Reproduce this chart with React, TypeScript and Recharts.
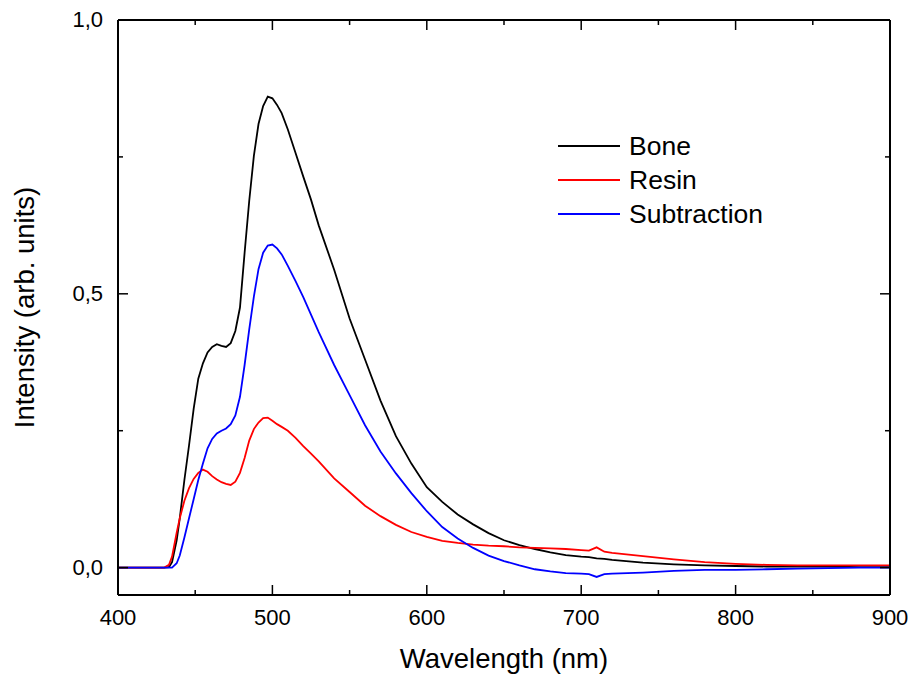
import { LineChart, Line, XAxis, YAxis, Legend } from "recharts";

const wavelengths = [
  400, 410, 420, 430, 433, 435, 438, 440, 443, 446, 449, 452, 455, 458, 461, 464,
  467, 470, 473, 476, 479, 482, 485, 488, 491, 494, 497, 500, 503, 506, 510, 515,
  520, 525, 530, 540, 550, 560, 570, 580, 590, 600, 610, 620, 630, 640, 650, 660,
  670, 680, 690, 700, 705, 710, 715, 720, 740, 760, 780, 800, 820, 840, 860, 880, 900,
];

const bone = [
  0, 0, 0, 0, 0.001, 0.01, 0.05, 0.09, 0.16, 0.223, 0.29, 0.345, 0.373, 0.393, 0.403, 0.408,
  0.405, 0.403, 0.41, 0.432, 0.475, 0.575, 0.67, 0.752, 0.81, 0.843, 0.86, 0.857, 0.845, 0.83, 0.8, 0.757,
  0.714, 0.672, 0.625, 0.544, 0.455, 0.38, 0.305, 0.24, 0.19, 0.147, 0.12, 0.097, 0.079, 0.063, 0.05, 0.041,
  0.034, 0.028, 0.023, 0.02, 0.019, 0.017, 0.016, 0.014, 0.009, 0.006, 0.004, 0.003, 0.002, 0.002, 0.002, 0.001, 0.001,
];

const resin = [
  0, 0, 0, 0, 0.005, 0.02, 0.064, 0.09, 0.122, 0.145, 0.162, 0.173, 0.179, 0.175, 0.167, 0.161,
  0.156, 0.153, 0.151, 0.157, 0.173, 0.2, 0.232, 0.253, 0.265, 0.273, 0.274, 0.268, 0.262, 0.257, 0.25, 0.237,
  0.222, 0.208, 0.194, 0.163, 0.138, 0.113, 0.094, 0.078, 0.065, 0.056, 0.049, 0.045, 0.042, 0.04, 0.039, 0.037,
  0.036, 0.035, 0.034, 0.032, 0.031, 0.037, 0.029, 0.027, 0.021, 0.015, 0.01, 0.007, 0.005, 0.004, 0.004, 0.004, 0.004,
];

const subtraction = [
  0, 0, 0, 0, 0, 0, 0.008, 0.022, 0.055, 0.09, 0.125, 0.16, 0.19, 0.218, 0.235, 0.245,
  0.25, 0.254, 0.262, 0.278, 0.312, 0.37, 0.435, 0.495, 0.545, 0.575, 0.588, 0.59, 0.583, 0.572, 0.551, 0.523,
  0.494, 0.462, 0.43, 0.37, 0.315, 0.26, 0.212, 0.172, 0.136, 0.103, 0.074, 0.053, 0.036, 0.022, 0.012, 0.004,
  -0.003, -0.007, -0.01, -0.011, -0.012, -0.017, -0.012, -0.011, -0.009, -0.006, -0.004, -0.004, -0.003, -0.002, -0.001, 0, 0,
];

const xTicks = [400, 450, 500, 550, 600, 650, 700, 750, 800, 850, 900];
const yTicks = [0, 0.25, 0.5, 0.75, 1.0];

const series = [
  { key: "bone", name: "Bone", color: "#000000" },
  { key: "resin", name: "Resin", color: "#ff0000" },
  { key: "subtraction", name: "Subtraction", color: "#0000ff" },
];

const data = wavelengths.map((w, i) => ({
  w,
  bone: bone[i],
  resin: resin[i],
  subtraction: subtraction[i],
}));

const FONT = "'Liberation Sans', Arial, sans-serif";

const isMajorX = (v: number) => v % 100 === 0;
const isMajorY = (v: number) => Math.abs((v * 2) % 1) < 1e-9;

const BottomTick = (props: any) => {
  const { x, y, payload } = props;
  const major = isMajorX(payload.value);
  return (
    <g>
      <line x1={x} y1={y} x2={x} y2={y - (major ? 10 : 5)} stroke="#000" strokeWidth={1.5} />
      {major && (
        <text x={x} y={y + 30} textAnchor="middle" fontSize={22} fontFamily={FONT} fill="#000">
          {payload.value}
        </text>
      )}
    </g>
  );
};

const TopTick = (props: any) => {
  const { x, y, payload } = props;
  const major = isMajorX(payload.value);
  return <line x1={x} y1={y} x2={x} y2={y + (major ? 10 : 5)} stroke="#000" strokeWidth={1.5} />;
};

const LeftTick = (props: any) => {
  const { x, y, payload } = props;
  const major = isMajorY(payload.value);
  return (
    <g>
      <line x1={x} y1={y} x2={x + (major ? 10 : 5)} y2={y} stroke="#000" strokeWidth={1.5} />
      {major && (
        <text x={x - 15} y={y + 7} textAnchor="end" fontSize={22} fontFamily={FONT} fill="#000">
          {payload.value.toFixed(1).replace(".", ",")}
        </text>
      )}
    </g>
  );
};

const RightTick = (props: any) => {
  const { x, y, payload } = props;
  const major = isMajorY(payload.value);
  return <line x1={x} y1={y} x2={x - (major ? 10 : 5)} y2={y} stroke="#000" strokeWidth={1.5} />;
};

const LegendBox = (props: any) => {
  const items = props.payload ?? [];
  return (
    <div>
      {items.map((item: any) => (
        <div key={item.value} style={{ display: "flex", alignItems: "center", height: 34 }}>
          <svg width={62} height={4}>
            <line x1={0} y1={2} x2={62} y2={2} stroke={item.color} strokeWidth={2} />
          </svg>
          <span style={{ marginLeft: 9, fontSize: 26.5, fontFamily: FONT, color: "#000" }}>{item.value}</span>
        </div>
      ))}
    </div>
  );
};

export default function App() {
  return (
    <div style={{ position: "absolute", left: 0, top: 0, background: "#fff" }}>
      <LineChart width={910} height={677} data={data} margin={{ top: 0, right: 0, bottom: 0, left: 0 }}>
        <XAxis
          dataKey="w"
          type="number"
          domain={[400, 900]}
          ticks={xTicks}
          interval={0}
          height={82}
          tickSize={0}
          tickMargin={0}
          tickLine={false}
          tick={<BottomTick />}
          axisLine={{ stroke: "#000", strokeWidth: 2 }}
          label={{
            value: "Wavelength (nm)",
            position: "insideBottom",
            offset: 9,
            style: { fontSize: 27.5, fontFamily: FONT, fill: "#000" },
          }}
        />
        <XAxis
          xAxisId="top"
          orientation="top"
          dataKey="w"
          type="number"
          domain={[400, 900]}
          ticks={xTicks}
          interval={0}
          height={20}
          tickSize={0}
          tickMargin={0}
          tickLine={false}
          tick={<TopTick />}
          axisLine={{ stroke: "#000", strokeWidth: 2 }}
        />
        <YAxis
          type="number"
          domain={[-0.05, 1.0]}
          ticks={yTicks}
          interval={0}
          width={118}
          tickSize={0}
          tickMargin={0}
          tickLine={false}
          tick={<LeftTick />}
          allowDataOverflow
          axisLine={{ stroke: "#000", strokeWidth: 2 }}
          label={{
            value: "Intensity (arb. units)",
            angle: -90,
            position: "insideLeft",
            offset: 24,
            style: { fontSize: 27.5, fontFamily: FONT, fill: "#000", textAnchor: "middle" },
          }}
        />
        <YAxis
          yAxisId="right"
          orientation="right"
          type="number"
          domain={[-0.05, 1.0]}
          ticks={yTicks}
          interval={0}
          width={20}
          tickSize={0}
          tickMargin={0}
          tickLine={false}
          tick={<RightTick />}
          allowDataOverflow
          axisLine={{ stroke: "#000", strokeWidth: 2 }}
        />
        <Legend
          layout="vertical"
          align="center"
          verticalAlign="middle"
          content={<LegendBox />}
          wrapperStyle={{ left: 558, top: 129, width: "auto" }}
        />
        {series.map((s) => (
          <Line
            key={s.key}
            type="linear"
            dataKey={s.key}
            name={s.name}
            stroke={s.color}
            strokeWidth={1.8}
            dot={false}
            isAnimationActive={false}
          />
        ))}
      </LineChart>
    </div>
  );
}
